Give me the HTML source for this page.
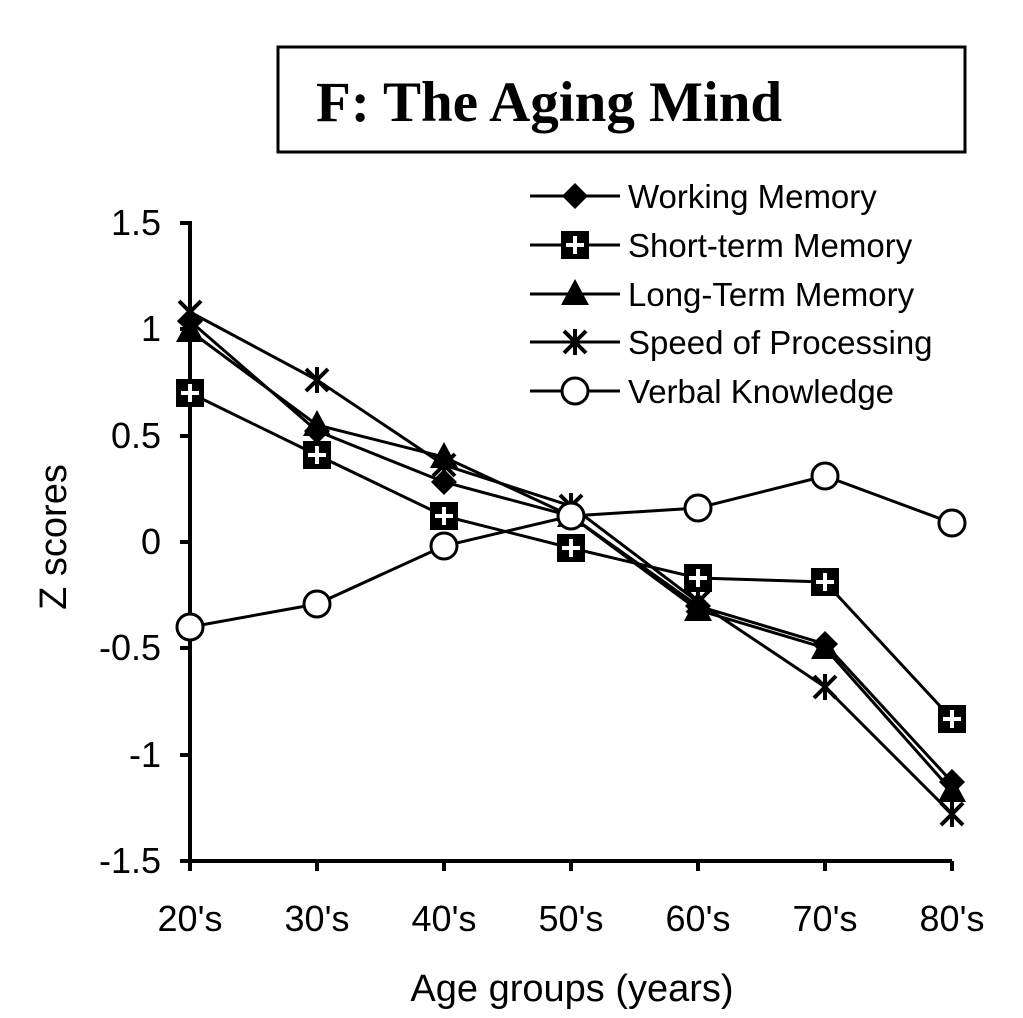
<!DOCTYPE html>
<html><head><style>body{margin:0;background:#fff}svg{display:block}</style></head><body>
<svg width="1023" height="1018" xmlns="http://www.w3.org/2000/svg" font-family="Liberation Sans, sans-serif">
<defs>
<g id="dia"><path d="M0,-13 L13,0 L0,13 L-13,0Z" fill="#000"/></g>
<g id="sq"><rect x="-14" y="-14" width="28" height="28" fill="#000"/><path d="M-9,0H9M0,-9V9" stroke="#fff" stroke-width="4"/></g>
<g id="tri"><path d="M0,-15 L14,11 L-14,11Z" fill="#000"/></g>
<g id="ast"><path d="M-11,-11L11,11M-11,11L11,-11M0,-13V13" stroke="#000" stroke-width="4"/></g>
<g id="cir"><circle r="13" fill="#fff" stroke="#000" stroke-width="3"/></g>
</defs>
<rect x="278" y="47" width="687" height="105" fill="#fff" stroke="#000" stroke-width="3"/>
<text x="316" y="121" font-family="Liberation Serif, serif" font-weight="bold" font-size="57">F: The Aging Mind</text>
<g stroke="#000" stroke-width="4" fill="none">
<path d="M180,223H190V861H952"/>
<path d="M180,329H190M180,436H190M180,542H190M180,648H190M180,755H190M180,861H190"/>
<path d="M190,861V871M317,861V871M444,861V871M571,861V871M698,861V871M825,861V871M952,861V871"/>
</g>
<g font-size="36" text-anchor="end">
<text x="161" y="235">1.5</text><text x="161" y="341">1</text><text x="161" y="448">0.5</text><text x="161" y="554">0</text><text x="161" y="660">-0.5</text><text x="161" y="767">-1</text><text x="161" y="873">-1.5</text>
</g>
<g font-size="36" text-anchor="middle">
<text x="190" y="931">20's</text><text x="317" y="931">30's</text><text x="444" y="931">40's</text><text x="571" y="931">50's</text><text x="698" y="931">60's</text><text x="825" y="931">70's</text><text x="952" y="931">80's</text>
<text x="572" y="1001" font-size="38">Age groups (years)</text>
<text transform="translate(66,537) rotate(-90)" font-size="38">Z scores</text>
</g>
<g stroke="#000" stroke-width="3" fill="none">
<polyline points="190,321 317,431 444,482 571,516 698,606 825,644 952,782"/>
<polyline points="190,393 317,455 444,516 571,548 698,578 825,582 952,719"/>
<polyline points="190,331 317,425 444,457 571,516 698,610 825,648 952,791"/>
<polyline points="190,312 317,380 444,465 571,506 698,602 825,687 952,814"/>
<polyline points="190,627 317,604 444,546 571,516 698,508 825,476 952,523"/>
<path d="M530,196H620M530,245H620M530,294H620M530,342H620M530,391H620"/>
</g>
<g>
<use href="#dia" x="190" y="321"/><use href="#dia" x="317" y="431"/><use href="#dia" x="444" y="482"/><use href="#dia" x="571" y="516"/><use href="#dia" x="698" y="606"/><use href="#dia" x="825" y="644"/><use href="#dia" x="952" y="782"/>
<use href="#sq" x="190" y="393"/><use href="#sq" x="317" y="455"/><use href="#sq" x="444" y="516"/><use href="#sq" x="571" y="548"/><use href="#sq" x="698" y="578"/><use href="#sq" x="825" y="582"/><use href="#sq" x="952" y="719"/>
<use href="#tri" x="190" y="331"/><use href="#tri" x="317" y="425"/><use href="#tri" x="444" y="457"/><use href="#tri" x="571" y="516"/><use href="#tri" x="698" y="610"/><use href="#tri" x="825" y="648"/><use href="#tri" x="952" y="791"/>
<use href="#ast" x="190" y="312"/><use href="#ast" x="317" y="380"/><use href="#ast" x="444" y="465"/><use href="#ast" x="571" y="506"/><use href="#ast" x="698" y="602"/><use href="#ast" x="825" y="687"/><use href="#ast" x="952" y="814"/>
<use href="#cir" x="190" y="627"/><use href="#cir" x="317" y="604"/><use href="#cir" x="444" y="546"/><use href="#cir" x="571" y="516"/><use href="#cir" x="698" y="508"/><use href="#cir" x="825" y="476"/><use href="#cir" x="952" y="523"/>
<use href="#dia" x="575" y="196"/><use href="#sq" x="575" y="245"/><use href="#tri" x="575" y="294"/><use href="#ast" x="575" y="342"/><use href="#cir" x="575" y="391"/>
</g>
<g font-size="33">
<text x="628" y="208">Working Memory</text>
<text x="628" y="257">Short-term Memory</text>
<text x="628" y="306">Long-Term Memory</text>
<text x="628" y="354">Speed of Processing</text>
<text x="628" y="403">Verbal Knowledge</text>
</g>
</svg>
</body></html>
